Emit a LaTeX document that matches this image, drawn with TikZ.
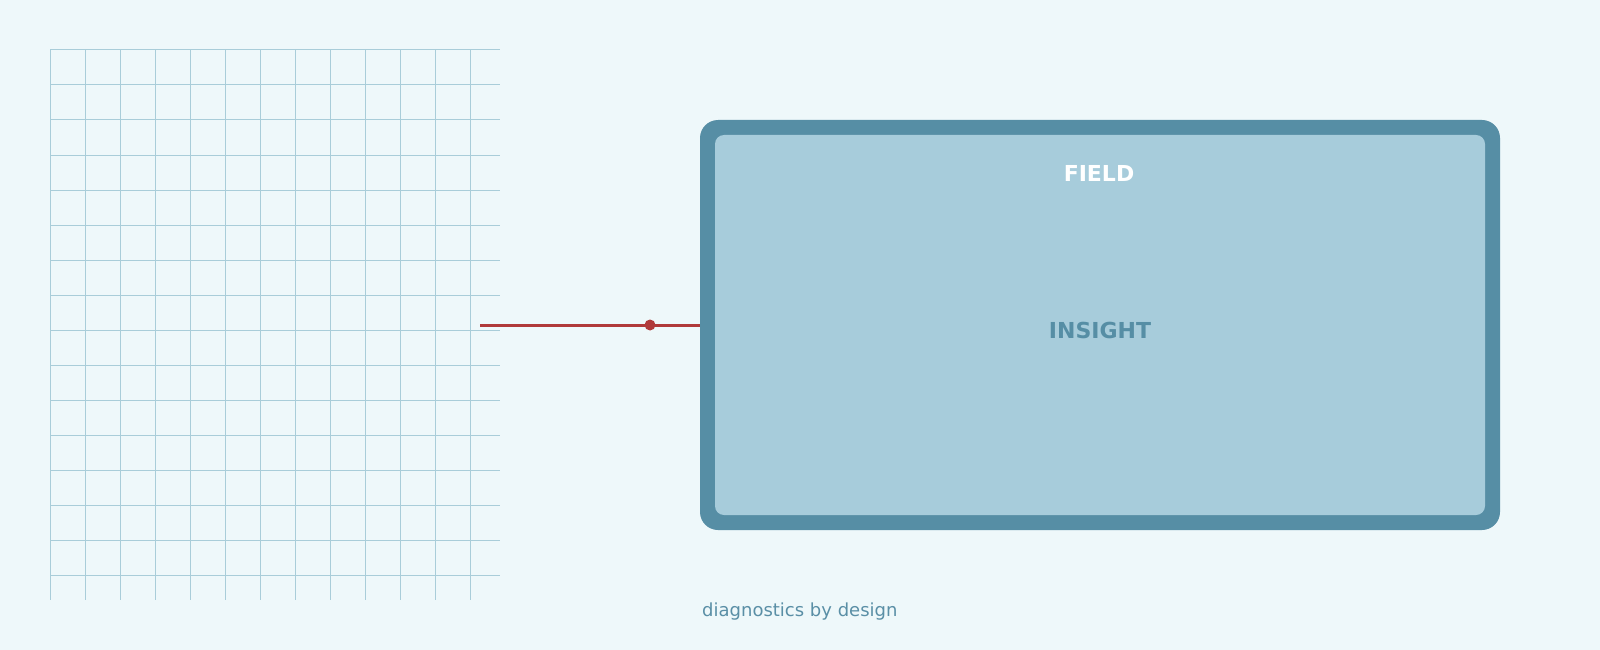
\documentclass[tikz,border=0pt]{standalone}
\usepackage{fontspec}
\setmainfont{DejaVu Sans}
\definecolor{bgc}{HTML}{EEF8FA}
\definecolor{gridc}{HTML}{A9CDD9}
\definecolor{borderc}{HTML}{568EA5}
\definecolor{fillc}{HTML}{A7CCDB}
\definecolor{linkc}{HTML}{B03A3A}
\definecolor{captc}{HTML}{5A8FA6}
\begin{document}
\begin{tikzpicture}[x=1pt,y=-1pt,
  gridline/.style={draw=gridc, line width=1pt},
  outerbox/.style={fill=borderc, rounded corners=18pt, minimum width=800pt, minimum height=410pt, inner sep=0pt},
  title/.style={text=white, font=\bfseries\fontsize{22}{26}\selectfont, anchor=base},
  label/.style={text=borderc, font=\bfseries\fontsize{22}{26}\selectfont, anchor=base},
  caption/.style={text=captc, font=\fontsize{18}{22}\selectfont, anchor=base west, inner sep=0pt},
  link/.style={draw=linkc, line width=3pt}]
\fill[bgc] (0,0) rectangle (1600,650);
\useasboundingbox (0,0) rectangle (1600,650);
% grid
\foreach \i in {0,...,12} {\draw[gridline] ({50+35*\i},50) -- ({50+35*\i},600);}
\foreach \j in {0,...,15} {\draw[gridline] (50,{50+35*\j}) -- (500,{50+35*\j});}
% box
\node[outerbox] (box) at (1100,325) {};
\fill[fillc, rounded corners=9pt] (715,135) rectangle (1485,515);
\node[title] (field) at (1099,181.5) {FIELD};
\node[label] (insight) at (1100,338.5) {INSIGHT};
% connector
\coordinate (cstart) at (480,325);
\coordinate (cdot) at (650,325);
\draw[link] (cstart) -- (box.west);
\fill[linkc] (cdot) circle (5.5pt);
% caption
\node[caption] (cap) at (702,616.5) {diagnostics by design};
\end{tikzpicture}
\end{document}
